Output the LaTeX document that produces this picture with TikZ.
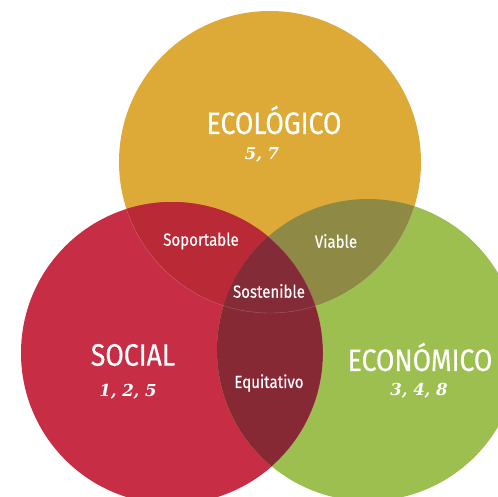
\documentclass[tikz,border=0pt]{standalone}
\usepackage{fontspec}
\setmainfont{Fira Sans}
\newfontfamily\headfont[FakeStretch=0.86,FakeBold=0.4]{Fira Sans}
\newfontfamily\numfont{DejaVu Serif}

\definecolor{ecoyellow}{HTML}{DEAA37}
\definecolor{socred}{HTML}{C72D44}
\definecolor{ecogreen}{HTML}{9CBF50}
\definecolor{redyellow}{HTML}{B92A36}
\definecolor{yellowgreen}{HTML}{8E8944}
\definecolor{redgreen}{HTML}{872835}
\definecolor{allthree}{HTML}{832B36}

\tikzset{
	areaname/.style={text=white, font=\headfont\fontsize{31}{31}\selectfont},
	areanums/.style={text=white, font=\numfont\bfseries\itshape\fontsize{16.5}{16.5}\selectfont},
	overlapname/.style={text=white, font=\headfont\fontsize{17.5}{17.5}\selectfont},
	seam/.style={draw=white, draw opacity=0.25, line width=0.4pt}
}

\begin{document}
\begin{tikzpicture}[x=1pt,y=-1pt]
	
	\useasboundingbox (0,0) rectangle (498,496);
	\clip (0,0) rectangle (498,496);
	
	\fill[ecoyellow] (270,162) circle (151pt);
	\fill[socred]    (172,353) circle (151pt);
	\fill[ecogreen]  (368,350) circle (151pt);
	
	\begin{scope}
		\clip (270,162) circle (151pt);
		\fill[redyellow]   (172,353) circle (151pt);
		\fill[yellowgreen] (368,350) circle (151pt);
	\end{scope}
	\begin{scope}
		\clip (172,353) circle (151pt);
		\fill[redgreen] (368,350) circle (151pt);
		\clip (368,350) circle (151pt);
		\fill[allthree] (270,162) circle (151pt);
	\end{scope}
	
	% faint seams inside the overlaps
	\begin{scope}
		\clip (172,353) circle (151pt) (368,350) circle (151pt);
		\draw[seam] (270,162) circle (151pt);
	\end{scope}
	\begin{scope}
		\clip (368,350) circle (151pt);
		\draw[seam] (172,353) circle (151pt);
	\end{scope}
	
	\node[areaname] (eco)  at (274,120) {ECOLÓGICO};
	\node[areanums] (econ) at (262,155) {5, 7};
	\node[areaname] (soc)  at (133,355) {SOCIAL};
	\node[areanums] (socn) at (128,392) {1, 2, 5};
	\node[areaname] (ecn)  at (420,357) {ECONÓMICO};
	\node[areanums] (ecnn) at (419,391) {3, 4, 8};
	
	\node[overlapname] (sop) at (201,241) {Soportable};
	\node[overlapname] (via) at (336,241) {Viable};
	\node[overlapname] (sos) at (269,291) {Sostenible};
	\node[overlapname] (equ) at (269,383) {Equitativo};
	
\end{tikzpicture}
\end{document}
